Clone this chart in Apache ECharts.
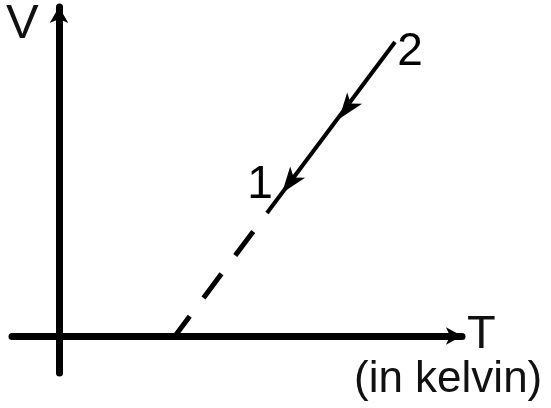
<!DOCTYPE html>
<html>
<head>
<meta charset="utf-8">
<script src="https://cdn.jsdelivr.net/npm/echarts@6/dist/echarts.min.js"></script>
<style>html,body{margin:0;padding:0;background:#fff}#c{width:551px;height:408px}</style>
</head>
<body>
<div id="c"></div>
<script>
// Process line in the V–T plane (arbitrary units)
const lineT = [33.6, 20.8];          // solid part: from state 2 down past state 1
const lineV = [29.4, 12.3];
const extT = [20.8, 11.6];           // dashed extrapolation to the T axis
const extV = [12.3, 0];
const arrowT = [28.0, 22.3];         // direction arrows along the process
const arrowV = [21.7, 14.3];
const stateNames = ['1', '2'];
const stateT = [22.8, 33.6];
const stateV = [14.9, 29.4];
const axisNames = ['T', 'V'];
const unitNote = '(in kelvin)';

const zip = (a, b) => a.map((v, i) => [v, b[i]]);
const FONT = 'Liberation Sans, Arial, sans-serif';

const chart = echarts.init(document.getElementById('c'), null, {renderer: 'canvas'});
chart.setOption({
  animation: false,
  backgroundColor: '#fff',
  grid: {left: 12, right: 89, top: 7, bottom: 35},
  xAxis: {
    type: 'value', min: -4.7, max: 40.3,
    axisLine: {onZero: true, symbol: ['none', 'arrow'], symbolSize: [13, 16],
      lineStyle: {color: '#000', width: 7}},
    axisTick: {show: false}, axisLabel: {show: false}, splitLine: {show: false}
  },
  yAxis: {
    type: 'value', min: -3.7, max: 32.9,
    axisLine: {onZero: true, symbol: ['none', 'arrow'], symbolSize: [14, 16],
      lineStyle: {color: '#000', width: 7}},
    axisTick: {show: false}, axisLabel: {show: false}, splitLine: {show: false}
  },
  series: [
    {
      type: 'line', data: zip(extT, extV), symbol: 'none',
      lineStyle: {color: '#000', width: 5, type: [30, 23], dashOffset: 30, cap: 'butt'}
    },
    {
      type: 'line', data: zip(lineT, lineV), symbol: 'none',
      lineStyle: {color: '#000', width: 4}
    },
    {
      type: 'scatter', data: zip(arrowT, arrowV), symbol: 'arrow',
      symbolSize: [14, 26], symbolRotate: 143,
      itemStyle: {color: '#000', opacity: 1}
    },
    {
      type: 'scatter', symbolSize: 0,
      itemStyle: {opacity: 1},
      data: zip(stateT, stateV).map((p, i) => ({
        value: p,
        label: {show: true, formatter: stateNames[i],
          offset: i === 0 ? [-27, -2] : [15, 10]}
      })),
      label: {position: 'inside', color: '#000', opacity: 1, fontSize: 46, fontFamily: FONT}
    }
  ],
  graphic: [
    {type: 'text', left: 6, top: 0, style: {text: axisNames[1], font: '49px ' + FONT, fill: '#111'}},
    {type: 'text', left: 467, top: 312, style: {text: axisNames[0], font: '47px ' + FONT, fill: '#111'}},
    {type: 'text', left: 354, top: 358, style: {text: unitNote, font: '44px ' + FONT, fill: '#111'}}
  ]
});
</script>
</body>
</html>
